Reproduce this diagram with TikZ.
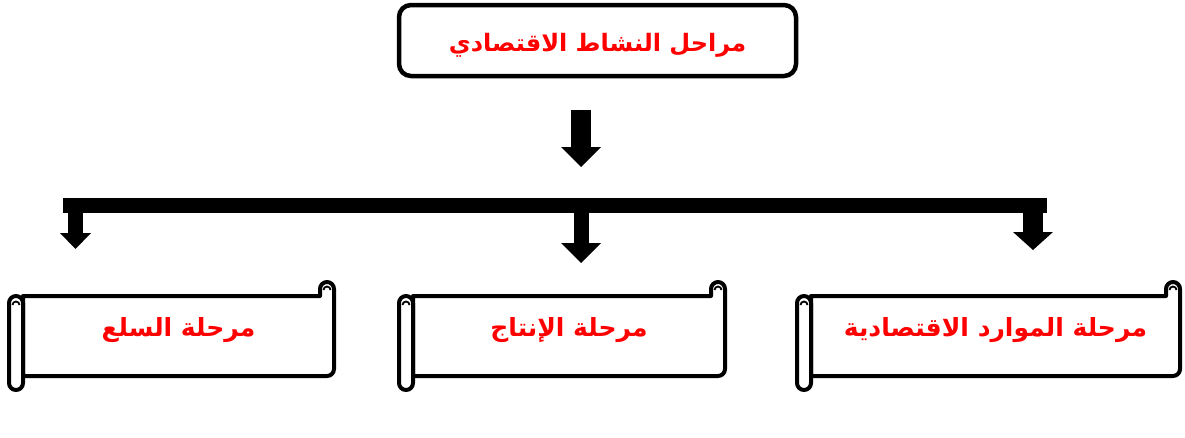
\documentclass[tikz,border=0pt]{standalone}
\usepackage{fontspec}
\newfontfamily\arabicfont[Script=Arabic]{DejaVu Sans}
\TeXXeTstate=1
\usetikzlibrary{arrows.meta,calc,backgrounds}

\tikzset{
  stagetext/.style={font=\arabicfont\bfseries\fontsize{25}{30}\selectfont, text=red},
  titlebox/.style={draw, fill=white, line width=4.5pt, rounded corners=12pt,
    minimum width=397pt, minimum height=71pt, inner sep=0pt, stagetext,
    font=\arabicfont\bfseries\fontsize{24}{29}\selectfont,
    text height=26pt, text depth=4pt},
  scrollbody/.style={inner sep=0pt, outer sep=0pt, minimum height=80pt,
    text height=18pt, text depth=18pt, stagetext},
  scrollline/.style={draw=black, fill=white, line width=4pt, line join=round},
  hookline/.style={line width=1.8pt},
  blockarrow/.style n args={3}{line width=#1,
    -{Triangle[width=#2,length=#3,line width=0pt]}},
}

% scroll outline around a body node
\newcommand{\scrollframe}[1]{%
  \begin{scope}[on background layer]
    \draw[scrollline] let \p1=(#1.north west), \p2=(#1.south east) in
      (\x1,\y2) -- (\x1,\y1) -- (\x2-14pt,\y1) -- (\x2-14pt,\y1+7pt)
      arc[start angle=180,end angle=0,radius=7pt] -- (\x2,\y2+7pt)
      arc[start angle=0,end angle=-90,radius=7pt] -- cycle;
    \draw[scrollline, rounded corners=7pt] let \p1=(#1.north west), \p2=(#1.south east) in
      (\x1-14pt,\y1) rectangle (\x1,\y2-14pt);
    \draw[hookline] let \p1=(#1.north west), \p2=(#1.south east) in
      (\x2-3.5pt,\y1+6pt) arc[start angle=0,end angle=180,radius=3.5pt]
      (\x1-3.5pt,\y1-9pt) arc[start angle=0,end angle=180,radius=3.5pt];
  \end{scope}}

\begin{document}
\begin{tikzpicture}[x=1pt,y=-1pt]
    \begin{scope}[on background layer]
      \fill[white] (0,0) rectangle (1185,437);
    \end{scope}
    \useasboundingbox (0,0) rectangle (1185,437);

    \node[titlebox] (title) at (597.5,40.5) {\beginR مراحل النشاط الاقتصادي\endR};

    \node[scrollbody, minimum width=311pt] (sGoods) at (178.5,336) {\beginR مرحلة السلع\endR};
    \node[scrollbody, minimum width=312pt] (sMake) at (569,336) {\beginR مرحلة الإنتاج\endR};
    \node[scrollbody, minimum width=369pt] (sRes) at (995.5,336) {\beginR مرحلة الموارد الاقتصادية\endR};
    \scrollframe{sGoods}
    \scrollframe{sMake}
    \scrollframe{sRes}

    % the bus and its drops
    \coordinate (busL) at (63,205);
    \coordinate (busR) at (1047,205);
    \coordinate (dropL) at (75.5,205);
    \coordinate (dropM) at (581,205);
    \coordinate (dropR) at (1033,205);
    \draw[line width=15pt] (busL) -- (busR);

    \draw[blockarrow={20pt}{40pt}{20pt}, shorten <=32pt, shorten >=38pt]
      (dropM |- title.south) -- (dropM);
    \draw[blockarrow={15pt}{31pt}{16pt}, shorten >=47pt] (dropL) -- (dropL |- sGoods.north);
    \draw[blockarrow={15pt}{40pt}{20pt}, shorten >=33pt] (dropM) -- (dropM |- sMake.north);
    \draw[blockarrow={20pt}{40pt}{18pt}, shorten >=46pt] (dropR) -- (dropR |- sRes.north);
\end{tikzpicture}
\end{document}
